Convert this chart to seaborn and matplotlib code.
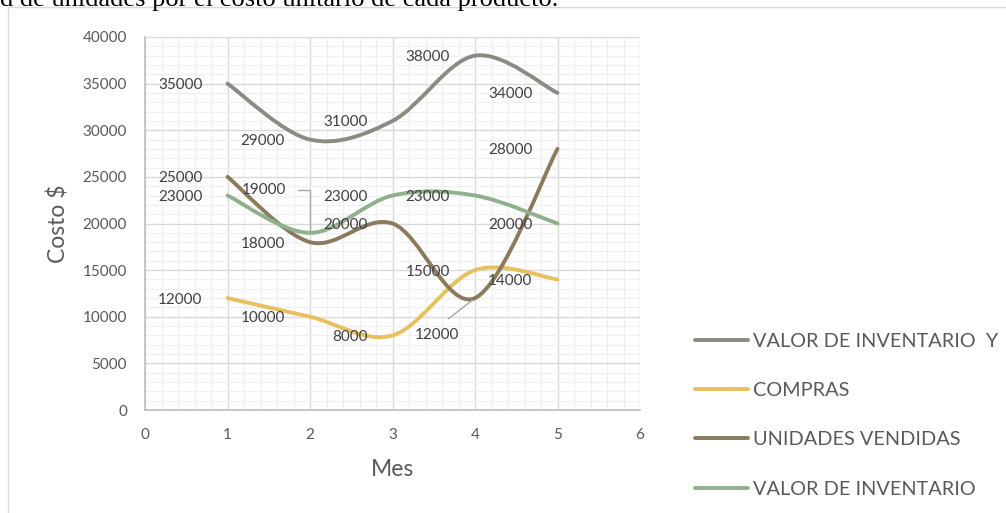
import matplotlib
matplotlib.use("Agg")
import numpy as np
import pandas as pd
import matplotlib.pyplot as plt
import seaborn as sns
from matplotlib.path import Path
from matplotlib.patches import PathPatch, Rectangle
from matplotlib.lines import Line2D
from matplotlib.ticker import MultipleLocator

# data
meses = [1, 2, 3, 4, 5]
valor_inventario_y = [35000, 29000, 31000, 38000, 34000]
compras = [12000, 10000, 8000, 15000, 14000]
unidades_vendidas = [25000, 18000, 20000, 12000, 28000]
valor_inventario = [23000, 19000, 23000, 23000, 20000]

series_names = ["VALOR DE INVENTARIO  Y", "COMPRAS", "UNIDADES VENDIDAS", "VALOR DE INVENTARIO"]
series_values = [valor_inventario_y, compras, unidades_vendidas, valor_inventario]
colors = ["#8A8B83", "#E8C05F", "#8B7A5C", "#8FB08C"]

# labels that were dragged away from their point: (series, point) -> offset px, alignment
moved_labels = {
    (2, 3): ((-38, -35), "center", (0.5, 1.0), 6.5, 2.5, "arc3"),
    (3, 1): ((-24, 44), "right", (1.0, 0.5), 6.5, 1.0, "angle,angleA=0,angleB=90,rad=0"),
}


def smooth_path(xs, ys):
    """Excel-like smoothed line: cubic bezier through the points"""
    pts = list(zip(xs, ys))
    n = len(pts)
    verts = [pts[0]]
    codes = [Path.MOVETO]
    for i in range(n - 1):
        p0 = pts[max(i - 1, 0)]
        p1 = pts[i]
        p2 = pts[i + 1]
        p3 = pts[min(i + 2, n - 1)]
        c1 = (p1[0] + (p2[0] - p0[0]) / 6, p1[1] + (p2[1] - p0[1]) / 6)
        c2 = (p2[0] - (p3[0] - p1[0]) / 6, p2[1] - (p3[1] - p1[1]) / 6)
        verts += [c1, c2, p2]
        codes += [Path.CURVE4] * 3
    return Path(verts, codes)


sns.set_style("white")
plt.rcParams["font.family"] = ["Lato", "DejaVu Sans"]

df = pd.DataFrame({
    "Mes": meses * len(series_names),
    "Costo": sum(series_values, []),
    "serie": [name for name in series_names for _ in meses],
})

fig = plt.figure(figsize=(10.06, 5.13), dpi=100)
fig.patch.set_facecolor("white")
ax = fig.add_axes([145 / 1006, 103 / 513, 495 / 1006, 373 / 513])

sns.lineplot(data=df, x="Mes", y="Costo", hue="serie", hue_order=series_names,
             palette=colors, linewidth=2.8, legend=False, ax=ax)
# seaborn draws straight segments; the chart uses smoothed lines
for line in ax.lines:
    line.set_visible(False)

for k, (vals, col) in enumerate(zip(series_values, colors)):
    ax.add_patch(PathPatch(smooth_path(meses, vals), fill=False, edgecolor=col,
                           lw=2.8, capstyle="round", joinstyle="round", zorder=3 + k))

# data labels
for s, vals in enumerate(series_values):
    for p, (x, v) in enumerate(zip(meses, vals)):
        if (s, p) in moved_labels:
            off, ha, rel, shA, shB, conn = moved_labels[(s, p)]
            ax.annotate(str(v), xy=(x, v), xytext=off, textcoords="offset pixels",
                        ha=ha, va="center_baseline", fontsize=11, color="#404040", zorder=10,
                        arrowprops=dict(arrowstyle="-", color="#A6A6A6", lw=1,
                                        connectionstyle=conn, relpos=rel,
                                        shrinkA=shA, shrinkB=shB))
        else:
            ax.annotate(str(v), xy=(x, v), xytext=(-25, 0), textcoords="offset pixels",
                        ha="right", va="center_baseline", fontsize=11, color="#404040", zorder=10)

ax.set_xlim(0, 6)
ax.set_ylim(0, 40000)
ax.xaxis.set_major_locator(MultipleLocator(1))
ax.xaxis.set_minor_locator(MultipleLocator(0.2))
ax.yaxis.set_major_locator(MultipleLocator(5000))
ax.yaxis.set_minor_locator(MultipleLocator(1000))
ax.grid(which="minor", color="#F0F0F0", lw=1)
ax.grid(which="major", color="#D9D9D9", lw=1)
ax.set_axisbelow(True)
for side in ["top", "right"]:
    ax.spines[side].set_visible(False)
for side in ["left", "bottom"]:
    ax.spines[side].set_color("#BFBFBF")
    ax.spines[side].set_linewidth(1.2)
ax.tick_params(which="major", length=4, width=1, color="#BFBFBF",
               labelsize=11, labelcolor="#595959", pad=9)
ax.tick_params(which="minor", length=0)

ax.set_xlabel("Mes", fontsize=16.5, color="#595959", labelpad=12)
ax.set_ylabel("Costo $", fontsize=16.5, color="#595959", labelpad=9.5)

handles = [Line2D([], [], color=c, lw=2.8, solid_capstyle="round") for c in colors]
fig.legend(handles, series_names, loc="upper left",
           bbox_to_anchor=(695 / 1006, 1 - 333 / 513), frameon=False,
           fontsize=14.3, labelcolor="#595959", handlelength=2.65,
           handletextpad=0.25, labelspacing=1.62, borderpad=0, borderaxespad=0)

# chart frame and the document line above it
fig.add_artist(Rectangle((7.5 / 1006, -0.1), 1.2, 1.1 - 7.5 / 513, transform=fig.transFigure,
                         fill=False, edgecolor="#D9D9D9", lw=1))
fig.text(0, 1 - 6 / 513, "d de unidades por el costo unitario de cada producto.",
         family="Liberation Serif", fontsize=19, color="black", ha="left", va="baseline")

fig.savefig("out.png", dpi=100)
